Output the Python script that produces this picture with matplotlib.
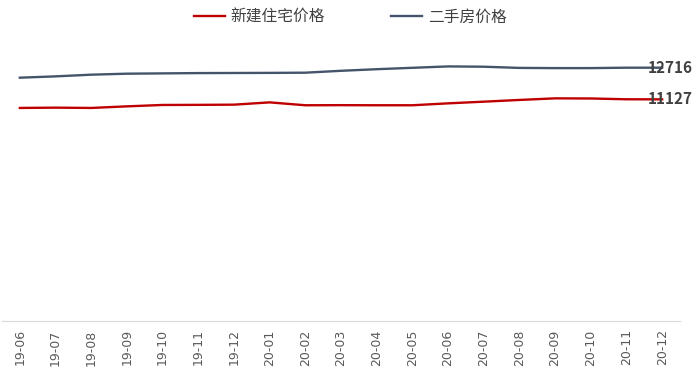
import matplotlib.pyplot as plt

plt.rcParams['font.family'] = ['Noto Sans CJK SC', 'DejaVu Sans']

months = ['19-06', '19-07', '19-08', '19-09', '19-10', '19-11', '19-12',
          '20-01', '20-02', '20-03', '20-04', '20-05', '20-06', '20-07',
          '20-08', '20-09', '20-10', '20-11', '20-12']
new_home = [10695, 10710, 10695, 10775, 10845, 10850, 10860, 10975, 10830, 10835,
            10830, 10830, 10926, 11010, 11097, 11177, 11170, 11130, 11127]
second_hand = [12214, 12280, 12365, 12415, 12430, 12445, 12450, 12455, 12465, 12560,
               12640, 12710, 12780, 12765, 12705, 12695, 12695, 12716, 12716]

fig = plt.figure(figsize=(7, 3.77), dpi=100)
ax = fig.add_axes([2 / 700, 56 / 377, 678 / 700, 291 / 377])

x = range(len(months))
ax.plot(x, new_home, color='#c00000', lw=1.7, label='新建住宅价格')
ax.plot(x, second_hand, color='#44546a', lw=1.7, label='二手房价格')

ax.set_xlim(-0.5, len(months) - 0.5)
ax.set_ylim(0, 14608)
ax.set_xticks(list(x))
ax.set_xticklabels(months, rotation=90, fontsize=9, color='#595959',
                   family='DejaVu Sans')
ax.tick_params(axis='x', length=0, pad=6)
ax.set_yticks([])
for s in ['top', 'right', 'left']:
    ax.spines[s].set_visible(False)
ax.spines['bottom'].set_color('#d9d9d9')

last = len(months) - 1
ax.text(last - 0.4, second_hand[-1], f'{second_hand[-1]}', va='center', ha='left',
        fontsize=11, color='#404040', fontweight='bold')
ax.text(last - 0.4, new_home[-1], f'{new_home[-1]}', va='center', ha='left',
        fontsize=11, color='#404040', fontweight='bold')

leg = fig.legend(loc='upper center', bbox_to_anchor=(0.5, 1.015), ncol=2, frameon=False,
                 fontsize=11.3, handlelength=2.0, columnspacing=4.2, handletextpad=0.35)
for t in leg.get_texts():
    t.set_color('#404040')

fig.savefig('out.png', dpi=100)
